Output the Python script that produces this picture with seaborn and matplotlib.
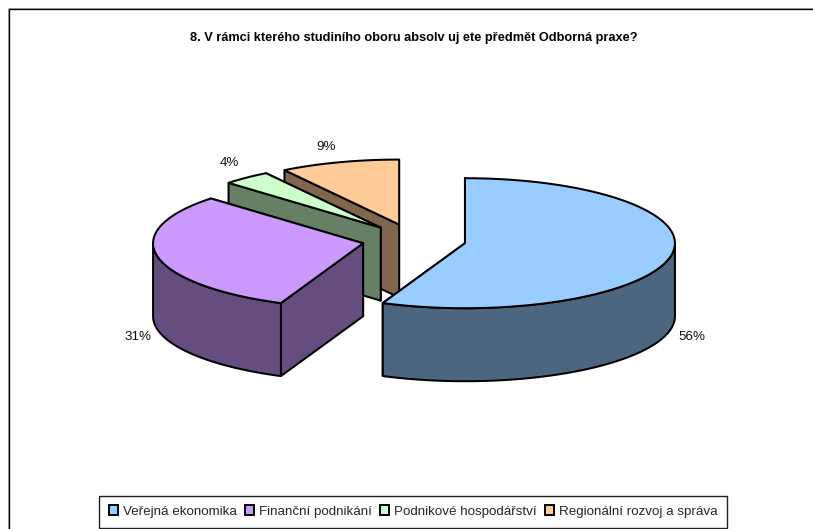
import numpy as np
import matplotlib
matplotlib.use('Agg')
import matplotlib.pyplot as plt
from matplotlib.patches import Patch
import seaborn as sns

# Data
obory = ['Veřejná ekonomika', 'Finanční podnikání', 'Podnikové hospodářství', 'Regionální rozvoj a správa']
podily = [56.4, 30.7, 3.7, 9.2]
barvy = ['#99CCFF', '#CC99FF', '#CCFFCC', '#FFCC99']
titulek = '8. V rámci kterého studiního oboru absolv uj ete předmět Odborná praxe?'

# Pie geometry, in pixels of the figure
cx, cy = 414, 240
rx, ry = 210, 65
vyska = 73
explode = 52
label_xy = [(692, 337.5), (138, 337.5), (229, 163), (326, 147)]

sns.set_theme(style='white')
plt.rcParams['font.family'] = ['Liberation Sans', 'DejaVu Sans']

fig = plt.figure(figsize=(8.13, 5.29), dpi=100)
ax = fig.add_axes([0, 0, 1, 1])
ax.set_xlim(0, 813)
ax.set_ylim(529, 0)
ax.axis('off')


def bod(x0, y0, uhel):
    # angle in degrees, clockwise from the top
    a = np.radians(uhel)
    return x0 + rx * np.sin(a), y0 - ry * np.cos(a)


def stin(barva):
    return tuple(c * 0.5 for c in matplotlib.colors.to_rgb(barva))


lw = 1.45
hrany = np.cumsum([0] + podily) * 3.6
wedges = []
for i, p in enumerate(podily):
    a0, a1 = hrany[i], hrany[i + 1]
    mid = np.radians((a0 + a1) / 2)
    x0 = cx + explode * np.sin(mid)
    y0 = cy - explode * ry / rx * np.cos(mid)
    wedges.append((i, a0, a1, x0, y0))

# back slices first, so the big ones cover them
for i, a0, a1, x0, y0 in [wedges[3], wedges[2], wedges[1], wedges[0]]:
    tmava = stin(barvy[i])
    # cut faces
    for a in (a1, a0):
        ex, ey = bod(x0, y0, a)
        ax.fill([x0, ex, ex, x0], [y0, ey, ey + vyska, y0 + vyska],
                facecolor=tmava, edgecolor='black', lw=lw, joinstyle='round')
    # outer wall, only the part that faces the viewer
    s0, s1 = max(a0, 90), min(a1, 270)
    if s1 > s0:
        t = np.linspace(s0, s1, 120)
        ox, oy = bod(x0, y0, t)
        ax.fill(np.r_[ox, ox[::-1]], np.r_[oy, oy[::-1] + vyska],
                facecolor=tmava, edgecolor='black', lw=lw, joinstyle='round')
    # top face
    t = np.linspace(a0, a1, 200)
    ox, oy = bod(x0, y0, t)
    ax.fill(np.r_[x0, ox], np.r_[y0, oy], facecolor=barvy[i],
            edgecolor='black', lw=lw, joinstyle='round')

for p, (lx, ly) in zip(podily, label_xy):
    ax.text(lx, ly, f'{p:.0f}%', ha='center', va='center', fontsize=9.6, color='#111111')

ax.text(414, 38, titulek, ha='center', va='center', fontsize=9.2, fontweight='bold', color='black')

# frame of the chart: only left and top are inside the image, with a grey edge outside
ax.plot([7.5, 7.5, 813], [529, 7.5, 7.5], color='#b0b0b0', lw=0.75, solid_joinstyle='miter')
ax.plot([8.5, 8.5, 813], [529, 8.5, 8.5], color='black', lw=0.95, solid_joinstyle='miter')

handles = [Patch(facecolor=b, edgecolor='black', lw=1.4) for b in barvy]
leg = ax.legend(handles, obory, loc='lower left', bbox_to_anchor=(99 / 813, 1.5 / 529),
                bbox_transform=fig.transFigure, ncol=4, fontsize=9.6, frameon=True,
                fancybox=False, edgecolor='#222222', framealpha=1, borderaxespad=0,
                handlelength=0.72, handleheight=0.72, handletextpad=0.33,
                columnspacing=0.62, borderpad=0.72)
leg.get_frame().set_linewidth(1.0)

fig.savefig('out.png', dpi=100)
